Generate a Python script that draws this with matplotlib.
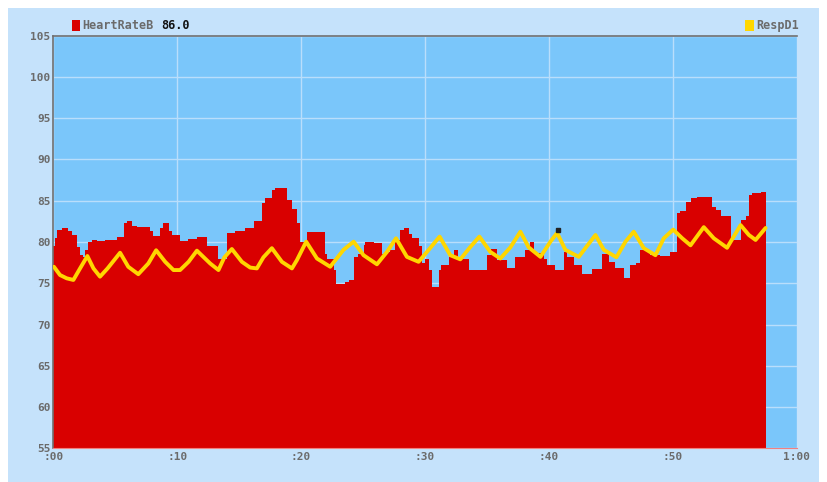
import matplotlib
matplotlib.use("Agg")
import matplotlib.pyplot as plt
from matplotlib.patches import Rectangle

# ---- data ----
hr_t = [0.00, 0.14, 0.27, 0.68, 1.21, 1.49, 1.89, 2.16, 2.42, 2.56, 2.83, 3.10, 3.51, 4.18,
        5.12, 5.71, 5.98, 6.33, 6.79, 7.81, 8.08, 8.62, 8.89, 9.37, 9.56, 10.23, 10.90, 11.58,
        12.39, 13.30, 14.00, 14.68, 15.48, 16.16, 16.83, 17.10, 17.64, 17.91, 18.85, 19.26,
        19.66, 19.93, 20.47, 21.89, 22.08, 22.62, 22.84, 23.56, 23.83, 24.29, 24.56, 25.04,
        25.18, 25.85, 26.53, 26.79, 27.20, 27.60, 28.00, 28.27, 28.68, 28.95, 29.48, 29.76,
        30.02, 30.35, 30.57, 31.10, 31.32, 31.91, 32.31, 32.63, 33.52, 35.01, 35.33, 35.82,
        36.62, 37.29, 38.10, 38.50, 38.77, 39.58, 39.85, 40.53, 41.20, 41.47, 42.00, 42.68,
        43.49, 44.30, 44.83, 45.37, 46.04, 46.58, 46.99, 47.39, 48.20, 49.00, 49.81, 50.36,
        50.62, 51.03, 51.43, 51.97, 53.18, 53.45, 53.85, 54.66, 54.93, 55.47, 55.87, 56.14,
        56.41, 57.08, 57.55]
hr_v = [79.5, 80.5, 81.4, 81.7, 81.3, 80.85, 79.4, 78.4, 78.2, 79.0, 80.0, 80.3, 80.1, 80.3,
        80.65, 82.3, 82.5, 81.95, 81.8, 81.3, 80.7, 81.7, 82.35, 81.3, 80.85, 80.16, 80.4, 80.65,
        79.5, 78.0, 81.05, 81.3, 81.7, 82.5, 84.7, 85.3, 86.3, 86.6, 85.1, 84.0,
        82.3, 80.04, 81.2, 78.6, 78.0, 76.6, 74.9, 75.2, 75.4, 78.15, 78.6, 79.6,
        80.04, 79.9, 78.5, 78.8, 79.0, 80.2, 81.5, 81.7, 81.0, 80.45, 79.5, 77.4,
        77.9, 76.6, 74.6, 76.6, 77.2, 78.15, 79.05, 78.0, 76.6, 78.4, 79.15, 77.8,
        76.9, 78.15, 79.05, 80.04, 78.7, 78.0, 77.2, 76.6, 78.8, 78.2, 77.2, 76.1,
        76.7, 78.5, 77.6, 76.8, 75.6, 77.2, 77.4, 79.05, 78.4, 78.3, 78.8, 83.5,
        83.7, 84.9, 85.3, 85.5, 84.3, 83.9, 83.1, 80.45, 80.3, 82.7, 83.1, 85.7,
        85.9, 86.1, 86.1]

resp_t = [0.05, 0.54, 1.08, 1.62, 2.16, 2.75, 3.24, 3.77, 4.38, 5.39, 6.05, 6.86, 7.67, 8.30,
          9.03, 9.70, 10.23, 10.92, 11.59, 12.66, 13.33, 13.81, 14.41, 15.22, 15.89, 16.43,
          16.96, 17.64, 18.45, 19.26, 19.66, 20.41, 21.28, 22.35, 23.42, 24.24, 25.04, 26.12,
          26.93, 27.66, 28.54, 29.48, 30.16, 31.18, 32.04, 32.85, 33.66, 34.39, 35.27, 36.08,
          36.89, 37.70, 38.37, 39.32, 40.12, 40.66, 41.33, 42.41, 43.22, 43.76, 44.43, 45.45,
          46.18, 46.85, 47.66, 48.60, 49.27, 50.03, 50.76, 51.43, 52.50, 53.31, 54.38, 55.47,
          56.14, 56.68, 57.49]
resp_v = [77.0, 76.0, 75.6, 75.4, 76.8, 78.3, 76.8, 75.8, 76.8, 78.7, 77.0, 76.1, 77.4, 79.0,
          77.6, 76.6, 76.6, 77.6, 78.95, 77.4, 76.6, 78.15, 79.15, 77.6, 76.9, 76.8,
          78.15, 79.25, 77.6, 76.8, 77.8, 80.04, 78.0, 77.0, 79.05, 80.04, 78.4, 77.3,
          78.8, 80.45, 78.2, 77.6, 78.8, 80.65, 78.4, 77.9, 79.4, 80.65, 78.8, 78.0,
          79.35, 81.25, 79.35, 78.2, 80.04, 81.1, 79.05, 78.2, 79.8, 80.85, 79.05, 78.15,
          80.04, 81.25, 79.25, 78.4, 80.45, 81.5, 80.45, 79.6, 81.8, 80.45, 79.3, 82.05,
          80.85, 80.25, 81.7]

y_ticks = [55, 60, 65, 70, 75, 80, 85, 90, 95, 100, 105]
x_ticks = [0, 10, 20, 30, 40, 50, 60]
x_labels = [":00", ":10", ":20", ":30", ":40", ":50", "1:00"]
hr_name = "HeartRateB"
hr_current = "86.0"
resp_name = "RespD1"

# ---- figure ----
W, H = 827, 482
fig = plt.figure(figsize=(W / 100, H / 100), dpi=100)
fig.patch.set_facecolor("white")

def fx(px):
    return px / W

def fy(py):
    return 1 - py / H

# outer light-blue panel
fig.patches.append(Rectangle((fx(8), fy(482)), fx(819) - fx(8), fy(8) - fy(482),
                             transform=fig.transFigure, facecolor="#c5e2fb",
                             edgecolor="none", zorder=-5))

left, right, top, bottom = 53.3, 796.7, 35.7, 448.3
ax = fig.add_axes([fx(left), fy(bottom), fx(right) - fx(left), fy(top) - fy(bottom)])
ax.set_zorder(2)
ax.set_facecolor("#7ac6fa")
ax.set_xlim(0, 60)
ax.set_ylim(55, 105)

ax.fill_between(hr_t, hr_v, 55, step="post", color="#d90000", linewidth=0, zorder=2)
ax.plot(resp_t, resp_v, color="#ffd600", linewidth=2.8, solid_capstyle="round",
        solid_joinstyle="round", zorder=3)

# small cursor mark
ax.plot([40.7], [81.5], marker="s", markersize=2.2, color="#222222", zorder=4)

ax.set_yticks(y_ticks)
ax.set_xticks(x_ticks)
ax.set_xticklabels(x_labels)
ax.grid(True, color="#b9defb", linewidth=1.0, zorder=1)
ax.set_axisbelow(True)

mono = "DejaVu Sans Mono"
for lab in ax.get_yticklabels() + ax.get_xticklabels():
    lab.set_fontfamily(mono)
    lab.set_fontweight("bold")
    lab.set_fontsize(8)
    lab.set_color("#6b6b6b")
ax.tick_params(axis="both", length=0, pad=2)
ax.tick_params(axis="x", pad=3)

for s in ["left", "top"]:
    ax.spines[s].set_color("#707070")
    ax.spines[s].set_linewidth(1.2)
ax.spines["right"].set_visible(False)
ax.spines["bottom"].set_color("#f08080")
ax.spines["bottom"].set_linewidth(0.8)

# legend items
fig.patches.append(Rectangle((fx(72), fy(31)), fx(8), fy(20) - fy(31),
                             transform=fig.transFigure, facecolor="#d90000",
                             edgecolor="none", zorder=3))
fig.text(fx(82), fy(25.5), hr_name, fontfamily=mono, fontweight="bold", fontsize=8.5,
         color="#6b6b6b", va="center", ha="left")
fig.text(fx(161), fy(25.5), hr_current, fontfamily=mono, fontweight="bold", fontsize=8.5,
         color="#111111", va="center", ha="left")

fig.patches.append(Rectangle((fx(745), fy(31)), fx(9), fy(20) - fy(31),
                             transform=fig.transFigure, facecolor="#ffd700",
                             edgecolor="none", zorder=3))
fig.text(fx(756), fy(25.5), resp_name, fontfamily=mono, fontweight="bold", fontsize=8.5,
         color="#6b6b6b", va="center", ha="left")

fig.savefig("out.png", dpi=100)
